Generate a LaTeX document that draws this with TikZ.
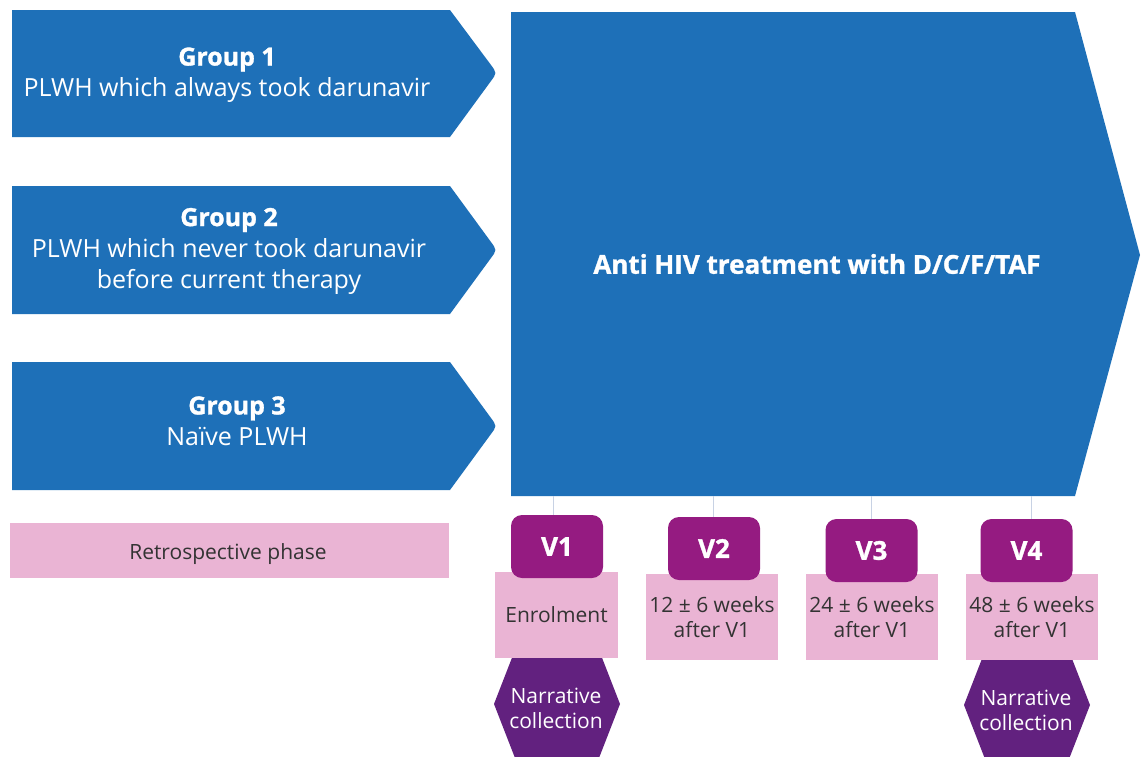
\documentclass[tikz,border=0pt]{standalone}
\usepackage{fontspec}
\setmainfont{Open Sans}[BoldFeatures={FakeBold=1.2}]
\definecolor{hivblue}{HTML}{1E70B8}
\definecolor{phasepink}{HTML}{EAB4D4}
\definecolor{visitpurple}{HTML}{951B81}
\definecolor{narrpurple}{HTML}{62217F}
\definecolor{linkgrey}{HTML}{C8D2E4}
\definecolor{darktext}{HTML}{333333}

\tikzset{
  groupfill/.style={fill=hivblue},
  grouptext/.style={text=white, align=center, inner sep=0pt,
    font=\fontsize{25}{31}\selectfont},
  phasebox/.style={fill=phasepink, text=darktext, align=center, inner sep=0pt,
    minimum height=86pt, font=\fontsize{21}{25}\selectfont},
  visitbox/.style={fill=visitpurple, rounded corners=11pt, text=white, inner sep=0pt,
    minimum width=92pt, minimum height=63pt, font=\bfseries\fontsize{26}{28}\selectfont},
  narrfill/.style={fill=narrpurple},
  narrtext/.style={text=white, align=center, inner sep=0pt,
    font=\fontsize{21}{25}\selectfont},
  link/.style={draw=linkgrey, line width=1pt}
}

\begin{document}
\begin{tikzpicture}[x=1pt,y=-1pt]
\useasboundingbox[fill=white] (0,0) rectangle (1144,756);

% study groups: pentagon arrows with a softened tip
\fill[groupfill] (12,10) -- (450,10) -- (490.4,64.2) .. controls (497,73) .. (490.4,81.8) -- (450,137) -- (12,137) -- cycle;
\fill[groupfill] (12,186) -- (450,186) -- (490.4,241.2) .. controls (497,250) .. (490.4,258.8) -- (450,314) -- (12,314) -- cycle;
\fill[groupfill] (12,362) -- (450,362) -- (490.4,417.2) .. controls (497,426) .. (490.4,434.8) -- (450,490) -- (12,490) -- cycle;

\node[grouptext] (g1) at (227,75) {\textbf{Group 1}\\PLWH which always took darunavir};
\node[grouptext] (g2) at (229,251) {\textbf{Group 2}\\PLWH which never took darunavir\\before current therapy};
\node[grouptext] (g3) at (237,421) {\textbf{Group 3}\\Naïve PLWH};

% treatment block
\fill[groupfill] (511,12) -- (1075,12) -- (1140,255) -- (1075,496) -- (511,496) -- cycle;
\node[text=white, inner sep=0pt, font=\bfseries\fontsize{26}{30}\selectfont] (treat) at (817,264) {Anti HIV treatment with D/C/F/TAF};

% retrospective phase
\node[fill=phasepink, inner sep=0pt, minimum width=439pt, minimum height=55pt] (retro) at (229.5,550.5) {};
\node[text=darktext, inner sep=0pt, font=\fontsize{21}{25}\selectfont] (retrolabel) at (228,554) {Retrospective phase};

% attachment points on the treatment block
\coordinate (t1) at (553,496);
\coordinate (t2) at (713,496);
\coordinate (t3) at (871,496);
\coordinate (t4) at (1031,496);

% narrative collection (tops tucked under the description boxes)
\fill[narrfill] (494,704) -- (515,650) -- (599,650) -- (620,704) -- (599,758) -- (515,758) -- cycle;
\fill[narrfill] (964,705) -- (985,651) -- (1069,651) -- (1090,705) -- (1069,759) -- (985,759) -- cycle;
\node[narrtext] (n1) at (556,708) {Narrative\\collection};
\node[narrtext] (n4) at (1026,710) {Narrative\\collection};

% visit descriptions
\node[phasebox, minimum width=123pt] (p1) at (556.5,615) {Enrolment};
\node[phasebox, minimum width=132pt] (p2) at (712,617) {12 ± 6 weeks\\after V1};
\node[phasebox, minimum width=132pt] (p3) at (872,617) {24 ± 6 weeks\\after V1};
\node[phasebox, minimum width=132pt] (p4) at (1032,617) {48 ± 6 weeks\\after V1};

% visits
\node[visitbox] (v1) at (557,546.5) {V1};
\node[visitbox] (v2) at (714,548.5) {V2};
\node[visitbox] (v3) at (871.5,550.5) {V3};
\node[visitbox] (v4) at (1026.5,550.5) {V4};

\draw[link] (t1) -- (t1 |- v1.north);
\draw[link] (t2) -- (t2 |- v2.north);
\draw[link] (t3) -- (t3 |- v3.north);
\draw[link] (t4) -- (t4 |- v4.north);
\end{tikzpicture}
\end{document}
